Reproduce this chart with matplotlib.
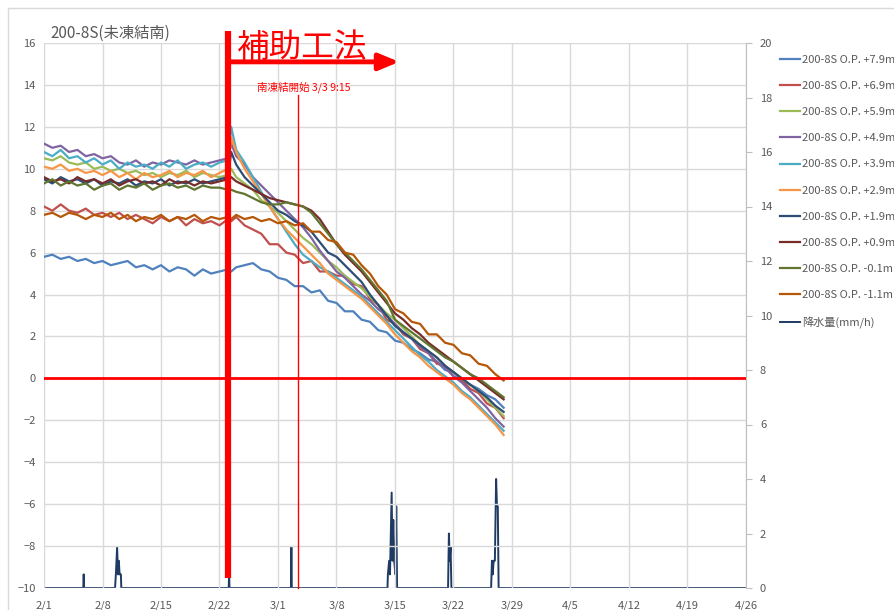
import matplotlib
matplotlib.use("Agg")
import matplotlib.pyplot as plt
from matplotlib.patches import Rectangle

plt.rcParams['font.family'] = ['Noto Sans CJK JP', 'DejaVu Sans']

# day offsets from 2/1
days = [0, 1, 2, 3, 4, 5, 6, 7, 8, 9, 10, 11, 12, 13, 14, 15, 16, 17, 18, 19, 20, 21,
        22, 22.4, 23, 24, 25, 26, 27, 28, 29, 30, 31, 32, 33, 34, 35, 36, 37, 38, 39,
        40, 41, 42, 43, 44, 45, 46, 47, 48, 49, 50, 51, 52, 53, 54, 55]

op79 = [5.8, 5.9, 5.7, 5.8, 5.6, 5.7, 5.5, 5.6, 5.4, 5.5, 5.6, 5.3, 5.4, 5.2, 5.4, 5.1, 5.3, 5.2, 4.9, 5.2, 5.0, 5.1,
        5.2, 5.1, 5.3, 5.4, 5.5, 5.2, 5.1, 4.8, 4.7, 4.4, 4.4, 4.1, 4.2, 3.7, 3.6, 3.2, 3.2, 2.8, 2.7,
        2.3, 2.2, 1.8, 1.7, 1.4, 1.2, 0.9, 0.8, 0.4, 0.3, -0.1, -0.3, -0.5, -0.8, -1.0, -1.4]
op69 = [8.2, 8.0, 8.3, 8.0, 7.9, 8.1, 7.8, 7.9, 7.7, 7.9, 7.6, 7.8, 7.6, 7.4, 7.7, 7.5, 7.7, 7.3, 7.6, 7.4, 7.5, 7.3,
        7.6, 7.5, 7.7, 7.3, 7.1, 6.9, 6.4, 6.4, 6.0, 5.9, 5.5, 5.6, 5.1, 5.1, 4.9, 4.9, 4.5, 4.4, 3.8,
        3.5, 2.8, 2.6, 2.1, 1.9, 1.4, 1.2, 0.7, 0.6, 0.1, -0.1, -0.5, -0.7, -1.2, -1.4, -1.9]
op59 = [10.5, 10.4, 10.6, 10.3, 10.2, 10.3, 10.0, 10.1, 9.9, 10.0, 9.8, 9.9, 9.7, 9.8, 9.6, 9.8, 9.7, 9.9, 9.6, 9.8, 9.7, 9.6,
        9.7, 10.0, 9.6, 9.3, 9.0, 8.5, 8.2, 7.9, 7.5, 7.1, 6.7, 6.4, 6.0, 5.6, 5.3, 4.9, 4.6, 4.3, 3.9,
        3.5, 3.1, 2.8, 2.4, 2.0, 1.6, 1.3, 1.0, 0.6, 0.3, 0.0, -0.3, -0.6, -1.0, -1.4, -1.8]
op49 = [11.2, 11.0, 11.1, 10.8, 10.9, 10.6, 10.7, 10.5, 10.6, 10.3, 10.2, 10.4, 10.1, 10.3, 10.2, 10.4, 10.3, 10.2, 10.4, 10.2, 10.3, 10.4,
        10.5, 11.2, 10.6, 10.2, 9.6, 9.2, 8.8, 8.4, 8.0, 7.6, 7.2, 6.7, 6.1, 5.6, 5.1, 4.8, 4.4, 4.0, 3.7,
        3.3, 3.0, 2.6, 2.2, 1.9, 1.5, 1.2, 0.8, 0.5, 0.1, -0.2, -0.6, -1.0, -1.4, -1.9, -2.3]
op39 = [10.8, 10.6, 10.9, 10.5, 10.6, 10.3, 10.5, 10.2, 10.4, 10.0, 10.3, 10.1, 10.2, 10.0, 10.3, 10.1, 10.4, 10.0, 10.2, 10.3, 10.1, 10.3,
        10.4, 12.0, 10.9, 10.3, 9.6, 8.9, 8.2, 7.6, 7.0, 6.4, 5.9, 5.6, 5.3, 5.1, 4.8, 4.5, 4.2, 3.9, 3.5,
        3.1, 2.7, 2.3, 1.9, 1.5, 1.1, 0.8, 0.4, 0.1, -0.2, -0.6, -0.9, -1.3, -1.7, -2.1, -2.5]
op29 = [10.1, 10.0, 10.2, 9.9, 10.0, 9.8, 9.9, 9.7, 9.9, 9.6, 9.8, 9.5, 9.8, 9.6, 9.7, 9.9, 9.6, 9.8, 9.7, 9.9, 9.6, 9.8,
        10.0, 11.5, 10.8, 10.0, 9.4, 8.8, 8.2, 7.6, 7.1, 6.7, 6.3, 5.9, 5.5, 5.0, 4.7, 4.4, 4.1, 3.8, 3.4,
        3.0, 2.6, 2.1, 1.7, 1.3, 1.0, 0.6, 0.3, 0.0, -0.3, -0.7, -1.0, -1.4, -1.8, -2.2, -2.7]
op19 = [9.5, 9.3, 9.6, 9.4, 9.5, 9.3, 9.5, 9.2, 9.4, 9.3, 9.5, 9.2, 9.4, 9.3, 9.5, 9.2, 9.4, 9.3, 9.5, 9.3, 9.4, 9.5,
        9.6, 10.8, 10.2, 9.6, 9.2, 8.8, 8.4, 8.0, 7.8, 7.5, 7.3, 7.0, 6.5, 6.0, 5.8, 5.4, 5.0, 4.6, 4.0,
        3.5, 3.0, 2.5, 2.2, 1.9, 1.6, 1.3, 1.0, 0.6, 0.3, 0.0, -0.3, -0.6, -0.9, -1.3, -1.6]
op09 = [9.6, 9.4, 9.5, 9.3, 9.6, 9.4, 9.5, 9.3, 9.5, 9.2, 9.4, 9.5, 9.3, 9.4, 9.2, 9.5, 9.3, 9.4, 9.2, 9.4, 9.3, 9.4,
        9.5, 9.6, 9.4, 9.2, 9.0, 8.8, 8.6, 8.5, 8.4, 8.3, 8.2, 8.0, 7.6, 7.0, 6.4, 5.9, 5.5, 5.1, 4.6,
        4.1, 3.6, 3.1, 2.8, 2.4, 2.1, 1.7, 1.4, 1.1, 0.8, 0.5, 0.2, -0.1, -0.4, -0.7, -1.0]
opm01 = [9.3, 9.5, 9.2, 9.4, 9.2, 9.3, 9.0, 9.2, 9.3, 9.0, 9.2, 9.1, 9.3, 9.0, 9.2, 9.3, 9.1, 9.2, 9.0, 9.2, 9.1, 9.1,
         9.0, 9.0, 8.9, 8.8, 8.6, 8.4, 8.3, 8.3, 8.4, 8.3, 8.2, 7.9, 7.4, 6.9, 6.4, 6.0, 5.6, 5.2, 4.7,
         4.2, 3.7, 2.8, 2.5, 2.2, 1.9, 1.6, 1.3, 1.0, 0.8, 0.5, 0.2, 0.0, -0.3, -0.6, -0.9]
opm11 = [7.8, 7.9, 7.7, 7.9, 7.8, 7.6, 7.8, 7.7, 7.9, 7.6, 7.8, 7.5, 7.7, 7.6, 7.8, 7.5, 7.7, 7.6, 7.8, 7.5, 7.7, 7.6,
         7.7, 7.6, 7.8, 7.6, 7.7, 7.5, 7.6, 7.4, 7.5, 7.3, 7.4, 7.0, 7.0, 6.6, 6.5, 6.0, 5.9, 5.4, 5.0,
         4.4, 4.0, 3.3, 3.1, 2.7, 2.6, 2.1, 2.1, 1.7, 1.6, 1.2, 1.1, 0.7, 0.6, 0.2, -0.1]

labels = ['200-8S O.P. +7.9m', '200-8S O.P. +6.9m', '200-8S O.P. +5.9m', '200-8S O.P. +4.9m',
          '200-8S O.P. +3.9m', '200-8S O.P. +2.9m', '200-8S O.P. +1.9m', '200-8S O.P. +0.9m',
          '200-8S O.P. -0.1m', '200-8S O.P. -1.1m']
series = [op79, op69, op59, op49, op39, op29, op19, op09, opm01, opm11]
colors = ['#4F81BD', '#C0504D', '#9BBB59', '#8064A2', '#4BACC6',
          '#F79646', '#2C4D75', '#772C2A', '#5F7530', '#B65708']

# rainfall (mm/h), right axis
rain_days = [0, 4.7, 4.75, 4.8,
             8.5, 8.6, 8.75, 8.85, 8.95, 9.05, 9.2, 9.25,
             22.1, 22.15, 22.2,
             29.55, 29.6, 29.65,
             41.1, 41.15, 41.3, 41.4, 41.6, 41.7, 41.8, 41.9, 42.05, 42.15, 42.25,
             48.35, 48.45, 48.55, 48.65, 48.75,
             53.5, 53.6, 53.7, 53.8, 53.95, 54.1, 54.2, 54.3, 54.4,
             84]
rain_mm = [0, 0, 0.5, 0,
           0, 0.5, 1.5, 0.5, 1.0, 0.5, 0.5, 0,
           0, 0.5, 0,
           0, 1.5, 0,
           0, 0.5, 1.0, 0.5, 3.5, 1.0, 2.5, 1.0, 0.5, 3.0, 0,
           0, 2.0, 1.0, 1.5, 0,
           0, 1.0, 0.5, 1.0, 1.0, 4.0, 3.0, 3.0, 0,
           0]

tick_days = [0, 7, 14, 21, 28, 35, 42, 49, 56, 63, 70, 77, 84]
tick_labels = ['2/1', '2/8', '2/15', '2/22', '3/1', '3/8', '3/15', '3/22',
               '3/29', '4/5', '4/12', '4/19', '4/26']

start_day = 22.0      # 補助工法
freeze_day = 30.385   # 3/3 9:15

gray = '#595959'
fig = plt.figure(figsize=(8.94, 6.10), dpi=100)
ax = fig.add_axes([44/894, 22/610, 702/894, 545/610])
ax2 = ax.twinx()
ax.set_zorder(ax2.get_zorder() + 1)
ax.patch.set_visible(False)

handles = []
for s, c, lab in zip(series, colors, labels):
    h, = ax.plot(days, s, color=c, lw=1.6, label=lab)
    handles.append(h)

hr, = ax2.plot(rain_days, rain_mm, color='#1F3B63', lw=1.4, label='降水量(mm/h)')
handles.append(hr)

ax.set_xlim(0, 84)
ax.set_ylim(-10, 16)
ax.set_yticks(range(-10, 17, 2))
ax.set_xticks(tick_days)
ax.set_xticklabels(tick_labels)
ax.grid(True, color='#D9D9D9', lw=1)
ax.set_axisbelow(True)
for sp in ax.spines.values():
    sp.set_visible(False)
ax.tick_params(length=0, colors=gray, labelsize=8, pad=6)
ax.tick_params(axis='x', pad=9)

ax2.set_ylim(0, 20)
ax2.set_yticks(range(0, 21, 2))
for sp in ['top', 'left', 'bottom']:
    ax2.spines[sp].set_visible(False)
ax2.spines['right'].set_color('#BFBFBF')
ax2.tick_params(axis='y', length=4, color='#BFBFBF', labelcolor=gray, labelsize=8, pad=6)

# annotations
ax.axhline(0, color='#FF0000', lw=2)
ax.plot([start_day, start_day], [-9.5, 16.55], color='#FF0000', lw=4.5, clip_on=False,
        solid_capstyle='butt')
ax.plot([freeze_day, freeze_day], [-10, 13.5], color='#FF0000', lw=1, clip_on=False)
ax.text(freeze_day + 0.7, 13.6, '南凍結開始 3/3 9:15', color='#FF0000', fontsize=7.6,
        ha='center', va='bottom')
ax.annotate('', xy=(42.5, 15.1), xytext=(start_day, 15.1),
            arrowprops=dict(arrowstyle='-|>,head_length=1.2,head_width=0.5',
                            color='#FF0000', lw=3.5, shrinkA=0, shrinkB=0),
            annotation_clip=False)
ax.text(start_day + 1.1, 15.75, '補助工法', color='#FF0000', fontsize=23.5,
        ha='left', va='center', clip_on=False)

fig.text(50/894, 1 - 33/610, '200-8S(未凍結南)', color=gray, fontsize=11,
         ha='left', va='center')

fig.legend(handles=handles, loc='upper left', bbox_to_anchor=(780/894, 1 - 55/610),
           frameon=False, fontsize=8, labelcolor=gray, handlelength=1.8,
           handletextpad=0.2, labelspacing=1.45, borderpad=0, borderaxespad=0)

fig.patches.append(Rectangle((8/894, -0.1), 1.2, (602/610) + 0.1, transform=fig.transFigure,
                             fill=False, ec='#D9D9D9', lw=1))

fig.savefig('out.png', dpi=100)
